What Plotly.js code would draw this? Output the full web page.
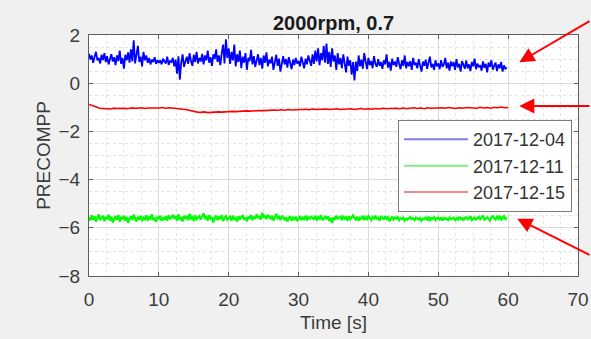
<!DOCTYPE html>
<html>
<head>
<meta charset="utf-8">
<script src="https://cdn.plot.ly/plotly-3.0.1.min.js"></script>
<style>html,body{margin:0;padding:0;background:#f0f0f0;}#chart{width:591px;height:339px;}</style>
</head>
<body>
<div id="chart"></div>
<script>
// Series labels
const seriesNames = ["2017-12-04", "2017-12-11", "2017-12-15"];
// Sampling: blue & green every 0.2 s, red every 0.5 s (time axis 0..60 s)
const sampleStepFast = 0.2;
const sampleStepSlow = 0.5;

const precompp_1204 = [
 1.22,0.98,1.15,0.85,1.10,1.30,0.95,1.05,0.82,1.18,
 0.96,1.25,0.88,1.12,0.78,1.02,1.20,0.90,1.08,0.75,
 1.15,0.92,1.35,0.80,1.05,0.60,1.18,0.95,1.28,0.85,
 1.40,0.90,1.78,0.82,1.20,1.55,0.88,1.10,0.70,1.30,
 0.95,1.15,0.85,1.05,0.78,0.98,0.88,1.08,0.80,0.96,
 0.85,0.95,0.78,1.02,0.90,0.82,1.10,0.76,0.92,0.88,
 1.05,0.70,0.98,0.40,1.12,0.15,0.85,1.20,0.68,0.95,
 1.10,0.80,1.25,0.92,0.72,1.18,0.88,1.30,0.82,1.05,
 0.90,1.22,0.78,1.15,0.95,1.35,0.85,1.08,0.72,1.20,
 1.00,1.40,0.88,1.15,0.75,1.25,1.60,0.82,1.82,1.05,
 1.45,0.80,1.30,0.95,1.60,0.70,1.20,0.88,1.35,0.62,
 1.10,0.85,1.25,0.55,1.05,0.92,1.38,0.78,1.12,0.68,
 0.95,1.20,0.75,1.05,0.60,1.15,0.85,1.28,0.70,0.98,
 0.82,1.10,0.55,0.95,1.18,0.72,1.02,0.48,0.90,1.12,
 0.78,1.00,0.65,1.08,0.85,0.58,0.98,0.75,1.05,0.82,
 0.92,0.70,1.10,0.85,0.62,1.02,0.78,1.15,0.88,0.72,
 1.20,0.80,1.35,0.90,1.45,0.75,1.25,0.95,1.55,0.85,
 1.65,0.80,1.30,0.68,1.45,0.90,1.15,0.55,1.25,0.78,
 1.05,0.62,1.20,0.85,0.45,1.10,0.72,0.95,0.35,0.88,
 0.12,0.90,0.50,1.15,0.70,0.98,0.60,1.25,0.82,0.58,
 1.05,0.75,0.92,0.62,1.12,0.80,0.68,1.00,0.72,0.88,
 0.60,0.95,0.78,1.20,0.65,0.88,0.52,1.02,0.75,0.90,
 0.68,1.08,0.80,0.58,0.95,0.72,1.15,0.62,0.88,0.70,
 0.92,0.55,1.05,0.75,0.85,0.62,1.00,0.70,0.48,0.90,
 0.72,0.98,0.60,0.85,1.10,0.66,0.80,0.55,0.95,0.70,
 0.82,0.58,0.96,0.68,0.78,1.05,0.62,0.85,0.52,0.90,
 0.70,0.88,0.55,1.00,0.66,0.80,0.48,0.92,0.72,0.60,
 0.95,0.62,0.78,0.50,0.88,0.70,1.02,0.58,0.82,0.66,
 0.75,0.52,0.90,0.64,0.80,0.45,0.86,0.68,0.95,0.56,
 0.72,0.85,0.50,0.78,0.62,0.88,0.48,0.74,0.60,0.66
];

const precompp_1211 = [
 -5.55,-5.70,-5.48,-5.66,-5.52,-5.75,-5.58,-5.45,-5.68,-5.60,
 -5.50,-5.72,-5.56,-5.64,-5.46,-5.70,-5.54,-5.78,-5.60,-5.52,
 -5.66,-5.48,-5.74,-5.58,-5.62,-5.50,-5.70,-5.55,-5.80,-5.60,
 -5.52,-5.68,-5.46,-5.62,-5.74,-5.54,-5.66,-5.50,-5.72,-5.58,
 -5.64,-5.48,-5.70,-5.56,-5.62,-5.44,-5.68,-5.58,-5.76,-5.54,
 -5.60,-5.50,-5.72,-5.58,-5.66,-5.52,-5.70,-5.48,-5.64,-5.56,
 -5.46,-5.62,-5.52,-5.70,-5.44,-5.66,-5.56,-5.74,-5.50,-5.60,
 -5.54,-5.68,-5.42,-5.62,-5.56,-5.72,-5.48,-5.64,-5.58,-5.52,
 -5.66,-5.50,-5.40,-5.60,-5.54,-5.70,-5.48,-5.62,-5.56,-5.78,
 -5.58,-5.50,-5.68,-5.56,-5.64,-5.48,-5.72,-5.58,-5.52,-5.66,
 -5.60,-5.54,-5.70,-5.50,-5.64,-5.58,-5.74,-5.52,-5.62,-5.56,
 -5.50,-5.66,-5.58,-5.72,-5.54,-5.62,-5.48,-5.68,-5.56,-5.60,
 -5.44,-5.60,-5.52,-5.66,-5.38,-5.58,-5.50,-5.64,-5.46,-5.56,
 -5.62,-5.50,-5.70,-5.56,-5.42,-5.60,-5.54,-5.68,-5.50,-5.58,
 -5.66,-5.56,-5.74,-5.60,-5.52,-5.70,-5.58,-5.64,-5.54,-5.72,
 -5.60,-5.52,-5.68,-5.58,-5.64,-5.50,-5.70,-5.56,-5.62,-5.54,
 -5.58,-5.66,-5.50,-5.70,-5.56,-5.62,-5.48,-5.68,-5.60,-5.54,
 -5.64,-5.52,-5.72,-5.58,-5.80,-5.56,-5.66,-5.50,-5.62,-5.58,
 -5.54,-5.68,-5.50,-5.62,-5.56,-5.70,-5.52,-5.64,-5.58,-5.48,
 -5.60,-5.66,-5.54,-5.70,-5.58,-5.62,-5.50,-5.68,-5.56,-5.64,
 -5.52,-5.60,-5.68,-5.56,-5.64,-5.50,-5.62,-5.58,-5.70,-5.54,
 -5.58,-5.66,-5.52,-5.62,-5.56,-5.72,-5.60,-5.54,-5.66,-5.58,
 -5.62,-5.56,-5.68,-5.60,-5.64,-5.58,-5.70,-5.62,-5.66,-5.60,
 -5.56,-5.64,-5.60,-5.68,-5.58,-5.62,-5.66,-5.60,-5.70,-5.62,
 -5.64,-5.58,-5.66,-5.54,-5.72,-5.60,-5.62,-5.56,-5.68,-5.60,
 -5.58,-5.66,-5.60,-5.70,-5.56,-5.64,-5.62,-5.68,-5.58,-5.64,
 -5.62,-5.58,-5.68,-5.60,-5.66,-5.54,-5.64,-5.60,-5.70,-5.58,
 -5.56,-5.64,-5.60,-5.52,-5.68,-5.62,-5.58,-5.66,-5.60,-5.54,
 -5.64,-5.58,-5.50,-5.66,-5.60,-5.56,-5.62,-5.70,-5.58,-5.52,
 -5.60,-5.66,-5.54,-5.62,-5.50,-5.68,-5.58,-5.52,-5.64,-5.56
];

const precompp_1215 = [
 -0.88,-0.92,-0.98,-1.04,-1.06,-1.05,-1.07,-1.04,-1.06,-1.05,
 -1.04,-1.06,-1.03,-1.05,-1.04,-1.02,-1.05,-1.03,-1.04,-1.02,
 -1.03,-1.01,-1.04,-1.02,-1.03,-1.05,-1.04,-1.08,-1.10,-1.14,
 -1.18,-1.20,-1.21,-1.19,-1.22,-1.20,-1.21,-1.19,-1.20,-1.18,
 -1.19,-1.17,-1.18,-1.16,-1.17,-1.15,-1.16,-1.14,-1.15,-1.13,
 -1.14,-1.12,-1.13,-1.11,-1.12,-1.10,-1.12,-1.09,-1.11,-1.10,
 -1.09,-1.11,-1.08,-1.10,-1.07,-1.09,-1.08,-1.10,-1.07,-1.09,
 -1.08,-1.06,-1.09,-1.07,-1.08,-1.06,-1.09,-1.07,-1.05,-1.08,
 -1.06,-1.08,-1.05,-1.07,-1.04,-1.06,-1.05,-1.07,-1.04,-1.06,
 -1.03,-1.06,-1.04,-1.02,-1.05,-1.03,-1.06,-1.02,-1.04,-1.03,
 -1.05,-1.02,-1.04,-1.01,-1.03,-1.05,-1.02,-1.04,-1.01,-1.03,
 -1.02,-1.04,-1.00,-1.03,-1.01,-1.04,-1.00,-1.02,-0.99,-1.02,
 -1.01
];

const lineColors = ["#0000ff", "#00ff00", "#ff0000"];
const legendColors = ["#7c7cf2", "#84e884", "#f28a8a"];

const textColor = "#3c3c3c";
const fontFam = "Arial, 'Liberation Sans', sans-serif";

const traces = [
  {y: precompp_1204, x0: 0, dx: sampleStepFast, type: "scatter", mode: "lines",
   line: {color: lineColors[0], width: 1.8}, showlegend: false, hoverinfo: "skip"},
  {y: precompp_1211, x0: 0, dx: sampleStepFast, type: "scatter", mode: "lines",
   line: {color: lineColors[1], width: 2.2}, showlegend: false, hoverinfo: "skip"},
  {y: precompp_1215, x0: 0, dx: sampleStepSlow, type: "scatter", mode: "lines",
   line: {color: lineColors[2], width: 1.6}, showlegend: false, hoverinfo: "skip"}
];
// Legend entries
for (let i = 0; i < 3; i++) {
  traces.push({x: [null], y: [null], type: "scatter", mode: "lines", name: seriesNames[i],
    line: {color: legendColors[i], width: 2}, showlegend: true});
}

const gridMajor = "#dcdcdc";
const gridMinor = "#e4e4e4";

const layout = {
  width: 591, height: 339,
  paper_bgcolor: "#f0f0f0",
  plot_bgcolor: "#ffffff",
  margin: {l: 89, r: 13, t: 35, b: 63, pad: 0},
  font: {family: fontFam, color: textColor, size: 19},
  title: {text: "<b>2000rpm, 0.7</b>", font: {family: fontFam, size: 20, color: "#1a1a1a"},
          x: 0.5, xref: "paper", xanchor: "center", y: 1, yref: "paper", yanchor: "bottom", pad: {b: 5}},
  xaxis: {
    range: [0, 70], tick0: 0, dtick: 10, autorange: false,
    showline: true, linecolor: "#5e5e5e", linewidth: 1, mirror: "ticks",
    ticks: "inside", ticklen: 4, tickcolor: "#5e5e5e", tickwidth: 1,
    showgrid: true, gridcolor: gridMajor, gridwidth: 1, zeroline: false,
    minor: {dtick: 2.5, showgrid: true, gridcolor: gridMinor, griddash: "dot", gridwidth: 1},
    tickfont: {size: 19, color: textColor, family: fontFam},
    ticklabelstandoff: 6,
    title: {text: "Time [s]", font: {size: 19, color: textColor, family: fontFam}, standoff: 6}
  },
  yaxis: {
    range: [-8, 2], tick0: -8, dtick: 2, autorange: false,
    showline: true, linecolor: "#5e5e5e", linewidth: 1, mirror: "ticks",
    ticks: "inside", ticklen: 4, tickcolor: "#5e5e5e", tickwidth: 1,
    showgrid: true, gridcolor: gridMajor, gridwidth: 1, zeroline: false,
    minor: {dtick: 0.5, showgrid: true, gridcolor: gridMinor, griddash: "dot", gridwidth: 1},
    tickfont: {size: 19, color: textColor, family: fontFam},
    ticklabelstandoff: 4,
    title: {text: "PRECOMPP", font: {size: 19, color: textColor, family: fontFam}, standoff: 2}
  },
  legend: {
    x: 0.632, y: 0.647, xanchor: "left", yanchor: "top",
    bgcolor: "#ffffff", bordercolor: "#7a7a7a", borderwidth: 1,
    font: {size: 18, color: "#333333", family: fontFam},
    itemwidth: 64, tracegroupgap: 0
  },
  annotations: [
    {x: 61.6, y: 0.87, xref: "x", yref: "y", ax: 80, ay: -42, axref: "pixel", ayref: "pixel",
     showarrow: true, arrowhead: 2, arrowsize: 1.5, arrowwidth: 2, arrowcolor: "#ff0000", text: ""},
    {x: 61.6, y: -0.95, xref: "x", yref: "y", ax: 80, ay: 0, axref: "pixel", ayref: "pixel",
     showarrow: true, arrowhead: 2, arrowsize: 1.5, arrowwidth: 2, arrowcolor: "#ff0000", text: ""},
    {x: 61.3, y: -5.62, xref: "x", yref: "y", ax: 80, ay: 37, axref: "pixel", ayref: "pixel",
     showarrow: true, arrowhead: 2, arrowsize: 1.5, arrowwidth: 2, arrowcolor: "#ff0000", text: ""}
  ]
};

Plotly.newPlot("chart", traces, layout, {staticPlot: true, displayModeBar: false});
</script>
</body>
</html>
